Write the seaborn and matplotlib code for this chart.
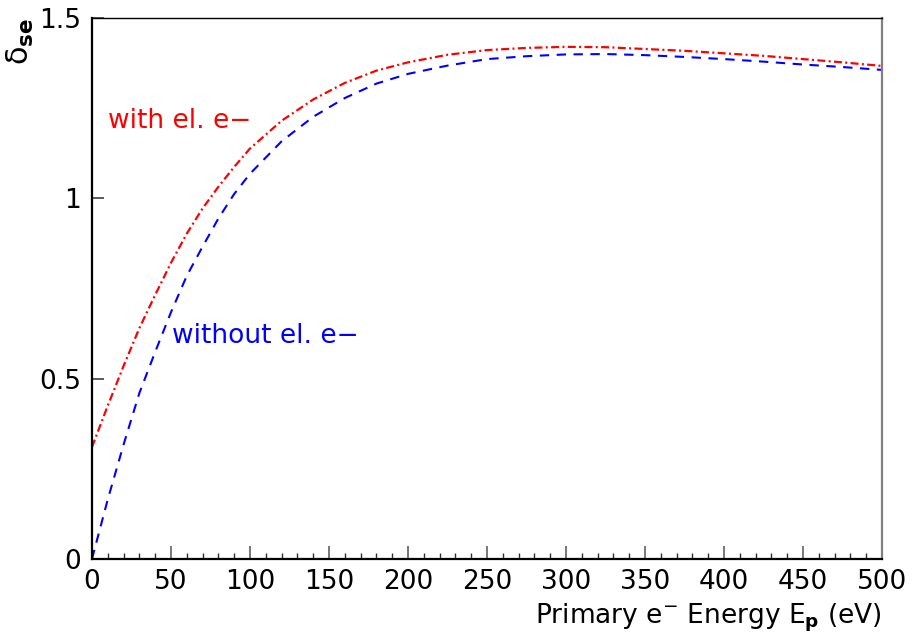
import seaborn as sns
import matplotlib.pyplot as plt
from matplotlib.ticker import MultipleLocator
import pandas as pd

# Secondary electron yield vs primary energy
energy = [0, 10, 20, 30, 40, 50, 60, 70, 80, 90, 100, 120, 140, 160, 180,
          200, 225, 250, 275, 300, 325, 350, 375, 400, 425, 450, 475, 500]
with_el = [0.31, 0.425, 0.535, 0.64, 0.732, 0.821, 0.902, 0.972, 1.032, 1.087,
           1.138, 1.215, 1.274, 1.32, 1.354, 1.377, 1.398, 1.411, 1.417, 1.42,
           1.419, 1.414, 1.409, 1.402, 1.395, 1.386, 1.377, 1.367]
without_el = [0.0, 0.165, 0.317, 0.46, 0.574, 0.684, 0.785, 0.866, 0.944, 1.012,
              1.068, 1.158, 1.226, 1.278, 1.318, 1.345, 1.368, 1.386, 1.394, 1.399,
              1.40, 1.397, 1.392, 1.386, 1.379, 1.371, 1.364, 1.356]

df = pd.DataFrame({'E': energy, 'with': with_el, 'without': without_el})

sns.set_style('ticks')
plt.rcParams['font.family'] = ['DejaVu Sans']
plt.rcParams['mathtext.default'] = 'regular'
plt.rcParams['text.color'] = 'black'
plt.rcParams['axes.labelcolor'] = 'black'
plt.rcParams['xtick.labelcolor'] = 'black'
plt.rcParams['ytick.labelcolor'] = 'black'

fig = plt.figure(figsize=(9.15, 6.4), dpi=100)
ax = fig.add_axes([0.1005, 0.1266, 0.8635, 0.8453])

sns.lineplot(data=df, x='E', y='with', ax=ax, color='#ff0000', lw=1.6)
sns.lineplot(data=df, x='E', y='without', ax=ax, color='#0000ff', lw=1.5)
ax.lines[0].set_dashes((3.6, 1.5, 0.9, 1.5))
ax.lines[1].set_dashes((4.5, 3.6))

ax.set_xlim(0, 500)
ax.set_ylim(0, 1.5)
ax.xaxis.set_major_locator(MultipleLocator(50))
ax.xaxis.set_minor_locator(MultipleLocator(10))
ax.set_yticks([0, 0.5, 1, 1.5])
ax.set_yticklabels(['0', '0.5', '1', '1.5'])

ax.tick_params(axis='x', which='major', direction='in', length=9.5, width=1.2,
               color='#606060', labelsize=19, pad=7)
ax.tick_params(axis='x', which='minor', direction='in', length=4.5, width=1.0,
               color='#303030')
ax.tick_params(axis='y', which='major', direction='in', length=8.5, width=1.2,
               color='#404040', labelsize=19, pad=8)

for side in ['left', 'bottom']:
    ax.spines[side].set_linewidth(1.6)
    ax.spines[side].set_color('black')
ax.spines['top'].set_linewidth(1.0)
ax.spines['top'].set_color('black')
ax.spines['right'].set_linewidth(1.6)
ax.spines['right'].set_color('#808080')

ax.set_xlabel(r'Primary e$^{-}$ Energy E$_{\mathbf{p}}$ (eV)', fontsize=19,
              ha='right', x=1.0, labelpad=5)
ax.set_ylabel(r'$\delta_{\mathbf{se}}$', fontsize=22, ha='right', va='bottom')
ax.yaxis.set_label_coords(-0.071, 1.0)

ax.text(10, 1.195, 'with el. e\u2212', color='#ff0000', fontsize=19)
ax.text(50.5, 0.6, 'without el. e\u2212', color='#0000ff', fontsize=19)

fig.savefig('out.png', dpi=100)
plt.close(fig)
